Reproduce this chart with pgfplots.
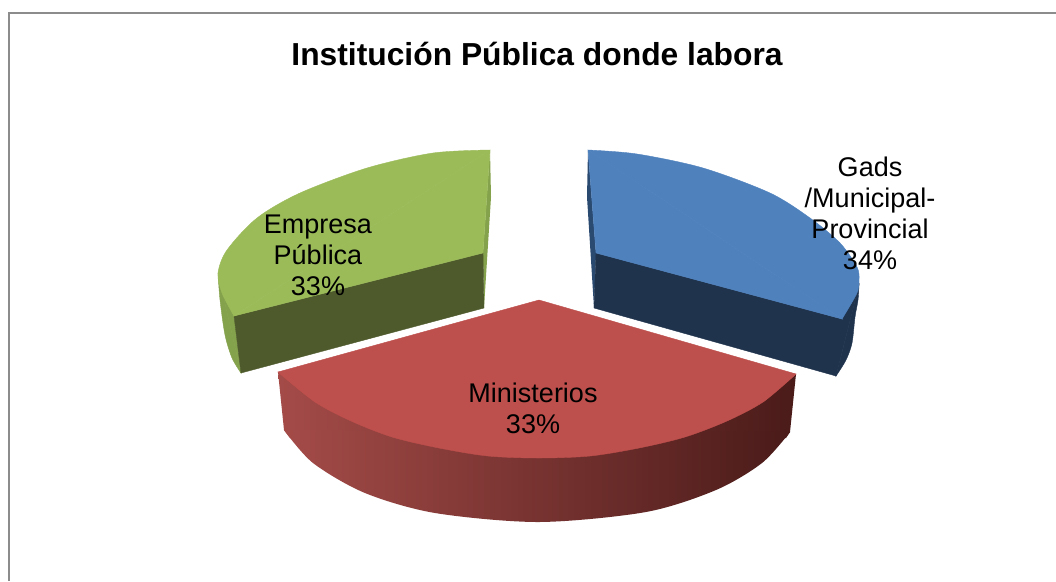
\documentclass[border=0pt]{standalone}
\usepackage{pgfplots}
\pgfplotsset{compat=1.18}
\usepackage{fontspec}
\setmainfont{Liberation Sans}
\definecolor{blueTop}{HTML}{4F81BD}
\definecolor{blueDark}{HTML}{1F334D}
\definecolor{blueEdge}{HTML}{2B4A70}
\definecolor{greenTop}{HTML}{9BBB59}
\definecolor{greenDark}{HTML}{4E5A2C}
\definecolor{greenEdge}{HTML}{84A14B}
\definecolor{redTop}{HTML}{BD4F4C}
\definecolor{redL}{HTML}{A44B48}
\definecolor{redM}{HTML}{6E2A28}
\definecolor{redR}{HTML}{4A1B19}
\definecolor{frameGray}{HTML}{8C8C8C}
\begin{document}
\begin{tikzpicture}
\begin{axis}[
  scale only axis, width=1056pt, height=581pt,
  xmin=0, xmax=1056, ymin=0, ymax=581,
  y dir=reverse, hide axis, clip=true,
]
% frame
\addplot[draw=frameGray, line width=2pt] coordinates {(9,581) (9,13) (1056,13)};
% blue slice
\addplot[draw=none, fill=blueEdge] coordinates {(588,150) (587,197) (594,308) (596,253)} --cycle;
\addplot[draw=blueDark, line width=0.4pt, fill=blueDark, smooth] coordinates {(859,285) (858,300) (855,317) (852,343) (846,360) (836,376)} --cycle;
\addplot[draw=blueDark, line width=0.4pt, fill=blueDark] coordinates {(596,253) (842,319) (859,285) (836,376) (594,308)} --cycle;
\addplot[draw=blueTop, line width=0.4pt, fill=blueTop, smooth] coordinates {(588,150) (637,154) (703,168) (770,193) (810,218) (840,243) (857,267) (859,280) (857,293) (842,319)} --cycle;
\addplot[draw=blueTop, line width=0.4pt, fill=blueTop] coordinates {(588,150) (842,319) (596,253)} --cycle;
% green slice
\addplot[draw=none, fill=greenEdge] coordinates {(490,150) (491,197) (484,308) (483,253)} --cycle;
\addplot[draw=greenEdge, line width=0.4pt, fill=greenEdge, smooth] coordinates {(218,273) (220,300) (225,335) (232,358) (241,373)} --cycle;
\addplot[draw=greenEdge, line width=0.4pt, fill=greenEdge] coordinates {(218,273) (234,316) (241,373)} --cycle;
\addplot[draw=greenDark, line width=0.4pt, fill=greenDark] coordinates {(234,316) (483,253) (484,308) (241,373)} --cycle;
\addplot[draw=greenTop, line width=0.4pt, fill=greenTop, smooth] coordinates {(490,150) (433,153) (367,168) (300,193) (257,218) (227,250) (218,273) (222,293) (234,316)} --cycle;
\addplot[draw=greenTop, line width=0.4pt, fill=greenTop] coordinates {(490,150) (234,316) (483,253)} --cycle;
% red slice, outer wall then top
\addplot[draw=none, left color=redL, middle color=redM, right color=redR] coordinates {(278,372) (796,374) (790,432) (786,438) (290,438) (284,430)} --cycle;
\addplot[draw=none, left color=redL, middle color=redM, right color=redR, smooth] coordinates {(284,430) (313,463) (365,493) (435,513) (539,522) (646,512) (716,490) (762,463) (790,432)} --cycle;
\addplot[draw=redTop, line width=0.4pt, fill=redTop, smooth] coordinates {(278,372) (315,402) (351,421) (392,437) (439,448) (488,456) (539,458) (590,456) (639,448) (685,437) (727,421) (763,402) (796,374)} --cycle;
\addplot[draw=redTop, line width=0.4pt, fill=redTop] coordinates {(539,300) (278,372) (315,402) (763,402) (796,374)} --cycle;
% labels
\node[font=\fontsize{31.8}{37}\selectfont\bfseries] at (axis cs:537,54) {Institución Pública donde labora};
\node[font=\fontsize{27}{31}\selectfont, align=center] at (axis cs:870,213) {Gads\\/Municipal-\\Provincial\\34\%};
\node[font=\fontsize{27}{31}\selectfont, align=center] at (axis cs:318,255) {Empresa\\Pública\\33\%};
\node[font=\fontsize{27}{31}\selectfont, align=center] at (axis cs:533,408) {Ministerios\\33\%};
\end{axis}
\path (current axis.south west) rectangle (current axis.north east);
\end{tikzpicture}
\end{document}
